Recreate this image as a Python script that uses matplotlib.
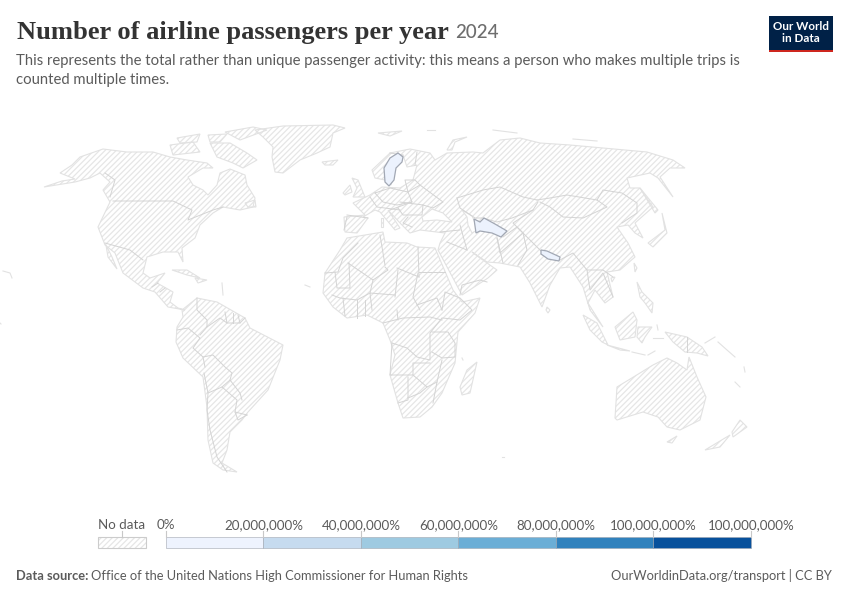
"""Number of airline passengers per year -- world map, mostly no data."""

import matplotlib
matplotlib.use("Agg")
import matplotlib.pyplot as plt
from matplotlib.patches import Rectangle

plt.rcParams["font.family"] = ["Lato", "DejaVu Sans"]
plt.rcParams["hatch.linewidth"] = 0.9

HATCH = "#e6e6e6"
COAST = "#e2e2e2"
BORDER = "#d4d4d4"
TEXT = "#5b5b5b"
HATCH_PATTERN = "//////"

# outlines, in picture pixels
north_america = [(44, 187), (62, 181), (75, 179), (60, 173), (72, 165), (80, 157), (103, 149), (127, 152),
                 (153, 152), (170, 157), (187, 160), (207, 163), (213, 168), (203, 168), (188, 177), (193, 185),
                 (203, 190), (208, 195), (217, 185), (220, 173), (230, 169), (245, 175), (247, 185), (255, 198),
                 (253, 207), (240, 210), (223, 207), (213, 213), (200, 225), (195, 238), (182, 248), (183, 262),
                 (178, 252), (163, 252), (147, 257), (143, 273), (150, 278), (165, 273), (157, 283), (173, 292),
                 (170, 302), (178, 308), (185, 310), (168, 307), (155, 292), (143, 288), (123, 273), (115, 253),
                 (105, 245), (98, 227), (110, 202), (103, 190), (110, 182), (100, 173), (90, 178), (75, 182)]
baja = [(106, 245), (112, 257), (117, 269), (108, 257)]
greenland = [(255, 130), (283, 126), (333, 125), (345, 128), (333, 133), (330, 147), (317, 153), (300, 160),
             (283, 173), (275, 172), (272, 157), (273, 147), (263, 137)]
baffin = [(210, 143), (230, 143), (247, 153), (257, 160), (243, 168), (233, 163), (217, 157)]
victoria = [(170, 145), (193, 142), (200, 152), (173, 155)]
ellesmere = [(225, 132), (253, 127), (267, 130), (240, 140)]
banks = [(177, 138), (200, 134), (197, 142), (180, 143)]
devon = [(208, 135), (227, 134), (220, 142), (210, 142)]
newfoundland = [(245, 203), (255, 200), (256, 207), (248, 207)]
iceland = [(322, 162), (338, 160), (333, 165), (325, 165)]
svalbard = [(378, 133), (402, 131), (390, 136)]
cuba = [(172, 270), (187, 270), (200, 278), (187, 275)]
hispaniola = [(195, 278), (207, 280), (198, 283)]
south_america = [(182, 310), (197, 298), (217, 302), (245, 318), (250, 328), (283, 345), (280, 360), (268, 390),
                 (248, 412), (242, 420), (230, 432), (227, 450), (222, 463), (237, 472), (223, 470), (213, 463),
                 (208, 440), (207, 407), (203, 377), (183, 358), (176, 342), (177, 327), (183, 317)]
eurasia = [(372, 170), (390, 153), (410, 149), (430, 153), (435, 160), (447, 153), (473, 152), (483, 153),
           (500, 140), (520, 138), (540, 143), (570, 145), (603, 148), (647, 152), (673, 160), (685, 168),
           (670, 168), (660, 177), (673, 197), (658, 178), (650, 173), (627, 178), (630, 188), (640, 188),
           (653, 207), (635, 223), (643, 238), (635, 233), (628, 225), (617, 227), (628, 243), (635, 257),
           (620, 270), (607, 272), (613, 297), (605, 303), (595, 290), (588, 303), (603, 327), (590, 310),
           (583, 287), (570, 267), (560, 268), (550, 285), (542, 307), (530, 283), (520, 267), (500, 263),
           (487, 262), (472, 252), (480, 258), (497, 270), (488, 278), (462, 295), (438, 250), (440, 243),
           (445, 233), (420, 230), (410, 233), (400, 223), (388, 210), (400, 228), (395, 230), (380, 212),
           (375, 210), (363, 217), (368, 218), (357, 233), (345, 232), (344, 217), (365, 215), (353, 203),
           (370, 195), (382, 187), (400, 188), (413, 180), (417, 165), (407, 167), (403, 155), (395, 167),
           (391, 185), (385, 180), (375, 178)]
black_sea = [(422, 217), (432, 209), (443, 213), (452, 222), (437, 220), (423, 221)]
caspian = [(462, 210), (472, 216), (474, 220), (477, 230), (472, 233), (468, 225), (467, 217)]
britain = [(352, 178), (358, 180), (365, 197), (353, 197), (357, 188)]
ireland = [(343, 193), (350, 185), (352, 192), (345, 195)]
sardinia = [(381, 218), (383, 218), (383, 227), (381, 227)]
japan = [(648, 243), (665, 230), (662, 213), (667, 233), (653, 247)]
sakhalin = [(640, 188), (658, 210), (655, 213)]
novaya_zemlya = [(447, 150), (453, 140), (467, 137), (455, 142), (452, 150)]
sri_lanka = [(547, 307), (550, 310), (548, 313), (546, 310)]
taiwan = [(634, 263), (637, 268), (635, 272)]
hainan = [(611, 278), (615, 277), (612, 282)]
philippines = [(637, 282), (642, 292), (653, 303), (652, 313), (645, 303), (640, 297)]
borneo = [(615, 327), (633, 312), (637, 320), (635, 337), (620, 340)]
sumatra = [(583, 315), (597, 323), (608, 345), (602, 342), (590, 330)]
java = [(607, 345), (630, 351), (620, 350)]
sulawesi = [(638, 327), (652, 327), (645, 337), (642, 343), (637, 337)]
new_guinea = [(665, 332), (687, 337), (702, 347), (708, 356), (697, 353), (685, 352), (673, 342)]
australia = [(615, 418), (617, 387), (640, 373), (653, 365), (667, 358), (677, 363), (687, 370), (689, 357),
             (697, 377), (706, 397), (700, 420), (680, 430), (667, 427), (658, 417), (643, 412), (617, 420)]
tasmania = [(667, 442), (677, 436), (672, 443)]
nz_north = [(740, 420), (747, 427), (733, 437), (732, 432)]
nz_south = [(705, 450), (730, 435), (720, 447)]
madagascar = [(477, 362), (470, 393), (462, 395), (460, 387), (467, 370)]
africa = [(325, 273), (340, 250), (347, 238), (383, 232), (385, 242), (407, 243), (417, 247), (435, 248),
          (453, 290), (462, 302), (480, 298), (475, 313), (458, 332), (455, 363), (442, 393), (432, 407),
          (420, 417), (403, 418), (398, 403), (390, 375), (395, 355), (390, 340), (383, 323), (367, 315),
          (347, 318), (333, 307), (323, 293)]

land = [north_america, baja, greenland, baffin, victoria, ellesmere, banks, devon, newfoundland, iceland,
        svalbard, cuba, hispaniola, south_america, eurasia, britain, ireland, sardinia, japan, sakhalin,
        novaya_zemlya, sri_lanka, taiwan, hainan, philippines, borneo, sumatra, java, sulawesi, new_guinea,
        australia, tasmania, nz_north, nz_south, madagascar, africa]
water = [black_sea, caspian]

# tiny islands, too small to hatch
specks = [
    [(3, 271), (10, 273), (12, 278)], [(718, 342), (727, 350), (735, 357)], [(735, 382), (740, 387)],
    [(744, 367), (745, 372)], [(305, 285), (310, 287)], [(222, 283), (223, 295)], [(462, 358), (463, 360)],
    [(632, 352), (645, 355)], [(648, 355), (655, 351)], [(653, 338), (663, 338)], [(657, 325), (658, 330)],
    [(705, 343), (715, 337)], [(502, 457), (504, 457)], [(493, 130), (517, 133)], [(573, 139), (597, 141)],
    [(427, 130), (435, 130)], [(0, 323), (1, 324)],
]

# the three countries that have a value
sweden = [(398, 153), (403, 157), (402, 162), (396, 168), (394, 180), (389, 186), (385, 182), (384, 168), (390, 158)]
turkmenistan = [(474, 219), (480, 222), (484, 218), (495, 224), (507, 231), (501, 237), (492, 233), (480, 231),
                (476, 233), (475, 226)]
nepal = [(541, 250), (547, 251), (560, 257), (559, 261), (548, 259), (541, 254)]
with_data = [sweden, turkmenistan, nepal]

borders = [
    [(105, 173), (115, 180), (110, 197)],
    [(113, 201), (173, 201), (192, 210), (188, 220), (213, 210), (223, 207)],
    [(105, 243), (130, 250), (143, 260)],
    [(152, 287), (158, 283)], [(160, 292), (165, 288)],
    [(197, 298), (197, 310), (207, 320), (207, 327), (200, 335)],
    [(177, 330), (188, 328), (200, 338), (193, 348), (203, 357), (205, 367)],
    [(207, 327), (220, 318), (227, 323), (225, 312)],
    [(227, 323), (240, 323), (245, 318)], [(233, 323), (233, 313)], [(240, 323), (238, 315)],
    [(203, 357), (213, 355), (225, 367), (232, 373), (230, 380), (240, 393), (242, 400)],
    [(204, 373), (208, 393), (207, 410), (210, 430), (217, 457), (227, 472)],
    [(208, 393), (222, 387), (230, 380)],
    [(222, 387), (237, 400), (235, 412), (247, 415)],
    [(235, 412), (238, 420), (247, 415)],
    [(325, 273), (338, 272), (343, 258), (358, 243)],
    [(349, 263), (350, 288), (337, 288), (335, 272)],
    [(348, 263), (373, 280), (388, 270), (385, 267)],
    [(380, 235), (385, 265)], [(418, 247), (419, 277)], [(397, 268), (419, 277)], [(398, 270), (395, 297)],
    [(419, 272), (445, 272)], [(418, 273), (413, 297), (420, 310)], [(417, 305), (437, 298), (442, 310)],
    [(442, 310), (445, 292), (460, 298), (472, 310), (460, 320), (443, 318)],
    [(395, 295), (370, 293), (372, 310)],
    [(373, 280), (370, 293), (357, 300), (340, 298), (332, 295)],
    [(357, 300), (357, 318)], [(365, 300), (365, 316)], [(343, 298), (345, 316)],
    [(383, 323), (403, 318), (430, 317), (442, 320)], [(397, 310), (398, 320)],
    [(392, 343), (407, 348), (417, 357), (430, 360), (430, 333), (442, 318)],
    [(432, 332), (448, 332), (455, 343), (455, 357), (442, 358), (432, 352)],
    [(392, 343), (390, 375), (413, 375), (413, 363), (430, 363)],
    [(408, 377), (408, 400), (398, 403)],
    [(413, 375), (427, 387), (437, 382), (442, 360)],
    [(408, 398), (420, 393), (427, 387)], [(437, 382), (433, 403)],
    [(457, 198), (483, 190), (500, 187), (523, 197), (537, 200)],
    [(457, 198), (460, 208), (475, 218), (483, 218), (497, 222), (512, 218), (533, 210), (538, 202)],
    [(537, 200), (550, 198), (567, 195), (597, 200), (607, 207), (583, 218), (563, 217), (550, 207), (540, 202)],
    [(597, 200), (603, 190), (622, 193), (637, 203), (637, 213), (622, 223)],
    [(533, 210), (513, 223), (523, 233), (542, 252), (560, 260), (573, 253), (587, 270), (603, 270), (613, 277)],
    [(523, 233), (527, 250), (518, 265)],
    [(503, 237), (517, 227), (523, 233), (500, 253), (497, 238)],
    [(497, 238), (503, 263)], [(460, 225), (467, 250)], [(447, 242), (467, 250)], [(440, 232), (460, 230)],
    [(460, 295), (462, 285), (480, 280), (487, 282)],
    [(587, 270), (590, 290), (603, 273), (613, 297)],
    [(375, 193), (390, 188), (408, 192), (412, 202), (397, 205), (383, 202), (375, 193)],
    [(370, 197), (377, 207), (400, 210)], [(390, 210), (412, 202)],
    [(400, 202), (423, 205), (422, 215), (403, 215), (398, 208)],
    [(408, 192), (420, 185), (443, 202), (433, 208), (423, 205)],
    [(408, 192), (405, 180), (415, 180), (420, 185)],
    [(417, 152), (415, 165)], [(390, 153), (403, 155)],
    [(347, 215), (368, 218)], [(347, 217), (344, 230)],
    [(408, 217), (403, 223), (412, 227)],
    [(687, 337), (687, 352)],
]

legend_labels = ["0%", "20,000,000%", "40,000,000%", "60,000,000%", "80,000,000%", "100,000,000%", "100,000,000%"]
legend_colors = ["#eef3fe", "#c6dbef", "#9ecae1", "#6baed6", "#3182bd", "#08519c"]


def draw_land(ax, outline):
    xs = [p[0] for p in outline]
    ys = [p[1] for p in outline]
    ax.fill(xs, ys, facecolor="white", edgecolor=HATCH, hatch=HATCH_PATTERN, lw=0, zorder=1)
    ax.fill(xs, ys, fill=False, edgecolor=COAST, lw=0.8, zorder=2)


def draw_legend(ax):
    left, step, top, height = 166, 97.5, 537, 11
    ax.add_patch(Rectangle((98, top), 48, height, facecolor="white", edgecolor=HATCH, hatch=HATCH_PATTERN, lw=0))
    ax.add_patch(Rectangle((98, top), 48, height, fill=False, edgecolor="#cccccc", lw=0.8))
    ax.plot([122, 122], [531, top], color="#c8c8c8", lw=0.8)
    ax.text(122, 525, "No data", ha="center", va="center", fontsize=9.6, color=TEXT)
    for i, color in enumerate(legend_colors):
        ax.bar(left + i * step, height, width=step, bottom=top, align="edge", color=color,
               edgecolor="#a0a6b0", lw=0.4)
    for i, label in enumerate(legend_labels):
        x = left + i * step
        ax.plot([x, x], [531, top], color="#c8c8c8", lw=0.8)
        ax.text(x, 525, label, ha="center", va="center", fontsize=9.6, color=TEXT)


def main():
    fig = plt.figure(figsize=(8.5, 6), dpi=100)
    ax = fig.add_axes([0, 0, 1, 1])
    ax.set_xlim(0, 850)
    ax.set_ylim(600, 0)
    ax.axis("off")

    for outline in land:
        draw_land(ax, outline)
    for outline in water:
        ax.fill([p[0] for p in outline], [p[1] for p in outline], facecolor="white", edgecolor=COAST,
                lw=0.8, zorder=2)
    for line in specks:
        ax.plot([p[0] for p in line], [p[1] for p in line], color=COAST, lw=0.8, zorder=2)
    for line in borders:
        ax.plot([p[0] for p in line], [p[1] for p in line], color=BORDER, lw=0.7, zorder=3)
    for outline in with_data:
        ax.fill([p[0] for p in outline], [p[1] for p in outline], facecolor="#ecf2fd", edgecolor="#a2a8b4",
                lw=0.9, zorder=4)

    ax.text(17, 32, "Number of airline passengers per year", family="Liberation Serif", weight="bold",
            fontsize=19.05, color="#333333", va="center")
    ax.text(455, 33, "2024", fontsize=13.5, color="#6e6e6e", va="center", weight="medium")
    ax.text(16, 61, "This represents the total rather than unique passenger activity: this means a person who "
            "makes multiple trips is", fontsize=10.74, color=TEXT, va="center")
    ax.text(16, 80, "counted multiple times.", fontsize=10.74, color=TEXT, va="center")

    ax.add_patch(Rectangle((769, 16), 64, 36, facecolor="#002147", lw=0))
    ax.add_patch(Rectangle((769, 49.5), 64, 2.5, facecolor="#ce261e", lw=0))
    ax.text(801, 27, "Our World", ha="center", va="center", color="white", weight="bold", fontsize=8.4)
    ax.text(801, 39, "in Data", ha="center", va="center", color="white", weight="bold", fontsize=8.4)

    draw_legend(ax)

    ax.text(16, 576, "Data source:", fontsize=9.3, color=TEXT, weight="bold", va="center")
    ax.text(91, 576, "Office of the United Nations High Commissioner for Human Rights", fontsize=9.32,
            color=TEXT, va="center")
    ax.text(832, 576, "OurWorldinData.org/transport | CC BY", fontsize=9.32, color=TEXT, ha="right", va="center")

    fig.savefig("out.png", dpi=100)


if __name__ == "__main__":
    main()
